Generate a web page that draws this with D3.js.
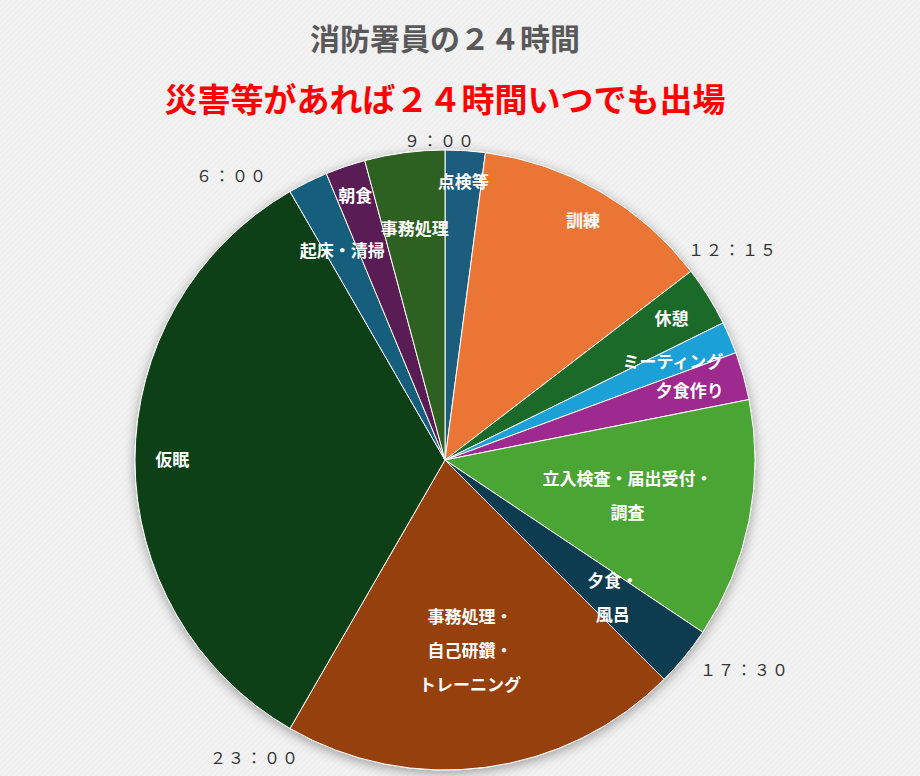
<!DOCTYPE html>
<html><head><meta charset="utf-8">
<script src="https://cdn.jsdelivr.net/npm/d3@7"></script>
<style>
body{margin:0;background:#f2f2f2;}
svg{display:block;font-family:"Noto Sans CJK JP","Noto Sans",sans-serif;}
</style></head>
<body><svg width="920" height="776"></svg>
<script>
// activities clockwise from 9:15, durations in hours
var activities = ["点検等","訓練","休憩","ミーティング","夕食作り","立入検査・届出受付・調査","夕食・風呂","事務処理・自己研鑽・トレーニング","仮眠","起床・清掃","朝食","事務処理"];
var hours = [0.5, 3.0, 0.75, 0.4, 0.6, 3.0, 0.75, 5.0, 8.0, 0.5, 0.5, 1.0];
var colors = ["#1d5d7d","#ea7535","#1e6b2a","#1ea0d8","#9e2a8f","#4ba534","#0f3a50","#964010","#114018","#135e7c","#5a1d55","#2f6020"];
var lines = [["点検等"],["訓練"],["休憩"],["ミーティング"],["夕食作り"],["立入検査・届出受付・","調査"],["夕食・","風呂"],["事務処理・","自己研鑽・","トレーニング"],["仮眠"],["起床・清掃"],["朝食"],["事務処理"]];
var labelR = [0.9,0.89,0.86,0.8,0.82,0.6,0.7,0.62,0.88,0.75,0.9,0.75];
var timeLabels = ["９：００","１２：１５","１７：３０","２３：００","６：００"];
var timePos = [[440,141],[733,250],[745,670],[255,758],[232,176]];

var svg = d3.select("svg");
var cx = 445, cy = 460, R = 310;

// faint background stripes
var defs = svg.append("defs");
var pat = defs.append("pattern").attr("id","stripe").attr("width",4).attr("height",4)
  .attr("patternUnits","userSpaceOnUse").attr("patternTransform","rotate(45)");
pat.append("rect").attr("width",4).attr("height",4).attr("fill","#f2f2f2");
pat.append("rect").attr("width",1).attr("height",4).attr("fill","#ececec");
svg.append("rect").attr("width",920).attr("height",776).attr("fill","url(#stripe)");

var f = defs.append("filter").attr("id","shadow").attr("x","-20%").attr("y","-20%").attr("width","140%").attr("height","140%");
f.append("feDropShadow").attr("dx",0).attr("dy",3).attr("stdDeviation",6).attr("flood-color","#000").attr("flood-opacity",0.35);

svg.append("text").attr("x",445).attr("y",50).attr("text-anchor","middle")
  .attr("font-size",30).attr("font-weight","bold").attr("fill","#595959").text("消防署員の２４時間");
svg.append("text").attr("x",445).attr("y",112).attr("text-anchor","middle")
  .attr("font-size",33).attr("font-weight","bold").attr("fill","#ff0000").text("災害等があれば２４時間いつでも出場");

var pie = d3.pie().sort(null).value(function(d){ return d; });
var arcs = pie(hours);
var arc = d3.arc().innerRadius(0).outerRadius(R);

var g = svg.append("g").attr("transform","translate("+cx+","+cy+")");
g.append("g").attr("filter","url(#shadow)").selectAll("path").data(arcs).enter().append("path")
  .attr("d",arc).attr("fill",function(d,i){ return colors[i]; })
  .attr("stroke","#fff").attr("stroke-width",1);

g.selectAll("text.lbl").data(arcs).enter().append("text").attr("class","lbl")
  .attr("transform",function(d,i){
    var a = (d.startAngle+d.endAngle)/2, r = R*labelR[i];
    return "translate("+(Math.sin(a)*r)+","+(-Math.cos(a)*r)+")";
  })
  .attr("text-anchor","middle").attr("fill","#fff").attr("font-size",17).attr("font-weight","bold")
  .each(function(d,i){
    var t = d3.select(this), n = lines[i].length;
    lines[i].forEach(function(s,k){
      t.append("tspan").attr("x",0).attr("y",(k-(n-1)/2)*34+6).text(s);
    });
  });

svg.selectAll("text.time").data(timeLabels).enter().append("text").attr("class","time")
  .attr("x",function(d,i){ return timePos[i][0]; }).attr("y",function(d,i){ return timePos[i][1]+6; })
  .attr("text-anchor","middle").attr("font-size",16).attr("fill","#333")
  .attr("letter-spacing",2).text(function(d){ return d; });
</script></body></html>
